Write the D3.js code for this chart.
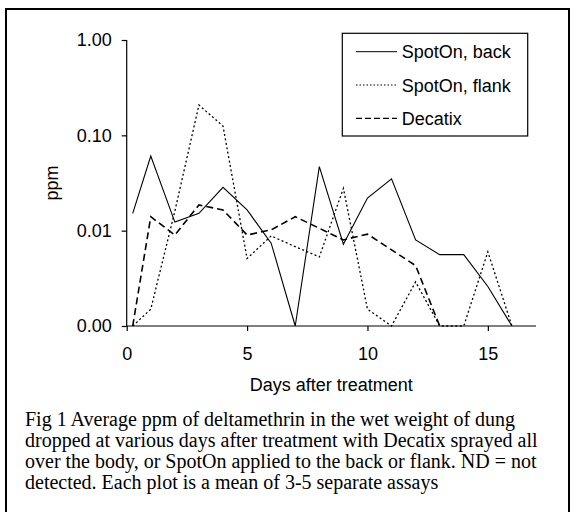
<!DOCTYPE html>
<html>
<head>
<meta charset="utf-8">
<script src="https://cdn.jsdelivr.net/npm/d3@7"></script>
<style>
  html, body { margin: 0; padding: 0; background: #fff; }
  svg { display: block; }
</style>
</head>
<body>
<svg id="chart" width="576" height="512"></svg>
<script>
// ---- data ----
const days = [0.25, 1, 2, 3, 4, 5, 6, 7, 8, 9, 10, 11, 12, 13, 14, 15, 16];
const spotOnBack  = [0.0152, 0.0607, 0.0123, 0.0152, 0.0285, 0.0165, 0.0074, 0.001, 0.047, 0.0072, 0.022, 0.035, 0.008, 0.0056, 0.0056, 0.0026, 0.001];
const spotOnFlank = [0.001, 0.0015, 0.016, 0.208, 0.125, 0.0051, 0.0088, 0.0068, 0.0053, 0.0278, 0.0015, 0.001, 0.0029, 0.001, 0.001, 0.006, 0.001];
const decatixDays = [0.25, 1, 2, 3, 4, 5, 6, 7, 8, 9, 10, 11, 12, 13];
const decatix     = [0.001, 0.014, 0.009, 0.0186, 0.0165, 0.009, 0.0102, 0.014, 0.0106, 0.008, 0.0092, 0.0063, 0.0043, 0.001];
const seriesNames = ["SpotOn, back", "SpotOn, flank", "Decatix"];
const yTickValues = [1, 0.1, 0.01, 0.001];
const yTickLabels = ["1.00", "0.10", "0.01", "0.00"];
const xTickValues = [0, 5, 10, 15];
const xTitle = "Days after treatment";
const yTitle = "ppm";
const captionLines = [
  "Fig 1 Average ppm of deltamethrin in the wet weight of dung",
  "dropped at various days after treatment with Decatix sprayed all",
  "over the body, or SpotOn applied to the back or flank. ND = not",
  "detected. Each plot is a mean of 3-5 separate assays"
];

(function () {
// ---- layout ----
const svg = d3.select("#chart");
const pLeft = 126.7, pRight = 536, pTop = 40, pBottom = 326;
const x = d3.scaleLinear().domain([0, 17]).range([pLeft, pRight]);
const y = d3.scaleLog().domain([0.001, 1]).range([pBottom, pTop]);
const sansFont = "Liberation Sans, Arial, sans-serif";
const serifFont = "Liberation Serif, 'Times New Roman', serif";

// frame
svg.append("rect").attr("x", 6).attr("y", 9).attr("width", 563).attr("height", 510)
  .attr("fill", "none").attr("stroke", "#000").attr("stroke-width", 2);

// axes
const xAxis = d3.axisBottom(x).tickValues(xTickValues).tickSize(5).tickPadding(16).tickFormat(d3.format("d"));
const gx = svg.append("g").attr("transform", `translate(0,${pBottom})`).call(xAxis);
const yAxis = d3.axisLeft(y).tickValues(yTickValues).tickSize(5).tickPadding(10)
  .tickFormat((d, i) => yTickLabels[i]);
const gy = svg.append("g").attr("transform", `translate(${pLeft},0)`).call(yAxis);
[gx, gy].forEach(g => {
  g.select(".domain").attr("stroke", "#000").attr("stroke-width", 1.2);
  g.selectAll(".tick line").attr("stroke", "#000").attr("stroke-width", 1.2);
  g.selectAll(".tick text").attr("font-family", sansFont).attr("font-size", 18).attr("fill", "#000");
});
gx.select(".domain").attr("d", `M${pLeft},0H${pRight}`);
gy.select(".domain").attr("d", `M0,${pTop}V${pBottom}`);

// titles
svg.append("text").attr("x", (pLeft + pRight) / 2).attr("y", 391).attr("text-anchor", "middle")
  .attr("font-family", sansFont).attr("font-size", 18).text(xTitle);
svg.append("text").attr("transform", `translate(58,${(pTop + pBottom) / 2}) rotate(-90)`)
  .attr("text-anchor", "middle").attr("font-family", sansFont).attr("font-size", 18).text(yTitle);

// lines
const line = d3.line().x(d => x(d[0])).y(d => y(d[1]));
const styles = [
  { dash: null, width: 1.1 },
  { dash: "2,2.5", width: 1.3 },
  { dash: "7,4", width: 1.6 }
];
const seriesData = [
  days.map((d, i) => [d, spotOnBack[i]]),
  days.map((d, i) => [d, spotOnFlank[i]]),
  decatixDays.map((d, i) => [d, decatix[i]])
];
seriesData.forEach((data, i) => {
  svg.append("path").datum(data).attr("d", line).attr("fill", "none")
    .attr("stroke", "#000").attr("stroke-width", styles[i].width)
    .attr("stroke-dasharray", styles[i].dash);
});

// legend
svg.append("rect").attr("x", 342.3).attr("y", 33.3).attr("width", 185.4).attr("height", 102.7)
  .attr("fill", "#fff").attr("stroke", "#000").attr("stroke-width", 1.2);
const rowY = [51.7, 85, 118.3];
seriesNames.forEach((name, i) => {
  svg.append("line").attr("x1", 356).attr("x2", 397).attr("y1", rowY[i]).attr("y2", rowY[i])
    .attr("stroke", "#000").attr("stroke-width", i === 2 ? 1.2 : 1)
    .attr("stroke-dasharray", i === 0 ? null : (i === 1 ? "1.5,2" : "6,3"));
  svg.append("text").attr("x", 401.7).attr("y", rowY[i] + 6.5)
    .attr("font-family", sansFont).attr("font-size", 18).text(name);
});

// caption
captionLines.forEach((t, i) => {
  svg.append("text").attr("x", 25).attr("y", 426 + i * 21)
    .attr("font-family", serifFont).attr("font-size", 20).text(t);
});
})();
</script>
</body>
</html>
